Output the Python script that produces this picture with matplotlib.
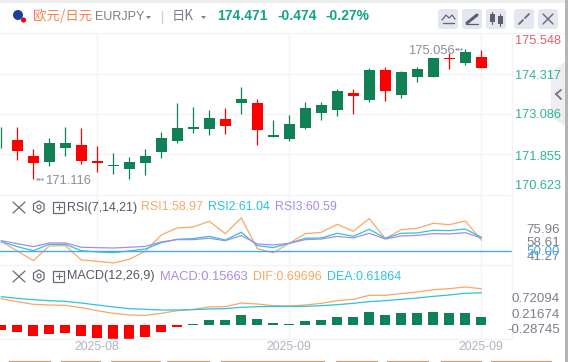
import matplotlib
matplotlib.use('Agg')
import matplotlib.pyplot as plt
from matplotlib.patches import FancyBboxPatch, Circle, Polygon, Rectangle

plt.rcParams['font.family'] = ['Liberation Sans', 'Noto Sans CJK SC', 'DejaVu Sans']

# candles (up = green, down = red)
opens = [172.368, 172.286, 171.793, 171.609, 172.039, 172.132, 171.639, 171.496, 171.393, 171.578,
         171.916, 172.255, 172.624, 172.624, 172.932, 173.424, 173.424, 172.378, 172.316, 172.655,
         173.116, 173.209, 173.732, 173.517, 174.440, 173.670, 174.224, 174.224, 174.809, 174.655, 174.840]
closes = [172.368, 171.947, 171.578, 172.193, 172.193, 171.639, 171.578, 171.516, 171.609, 171.793,
          172.347, 172.655, 172.686, 172.963, 172.716, 173.547, 172.593, 172.440, 172.778, 173.270,
          173.363, 173.794, 173.640, 174.440, 173.794, 174.378, 174.471, 174.809, 174.778, 174.994, 174.501]
highs = [172.696, 172.696, 172.009, 172.347, 172.696, 172.655, 172.101, 171.886, 171.762, 172.009,
         172.532, 173.424, 173.301, 173.209, 173.270, 173.917, 173.547, 172.901, 173.055, 173.455,
         173.455, 173.855, 173.855, 174.501, 174.532, 174.409, 174.532, 174.809, 174.963, 175.086, 175.055]
lows = [172.039, 171.670, 171.085, 171.485, 171.793, 171.547, 171.301, 171.239, 171.085, 171.209,
        171.732, 172.193, 172.501, 172.440, 172.470, 173.086, 172.132, 172.378, 172.255, 172.624,
        172.901, 173.024, 173.086, 173.455, 173.486, 173.578, 174.070, 174.224, 174.471, 174.594, 174.501]

rsi1 = [57.6, 50.3, 42.6, 54.2, 54.5, 43.2, 42.1, 40.8, 43.7, 50.0, 62.9, 68.4, 69.2, 73.7, 63.9, 76.3,
        52.1, 48.9, 56.3, 63.9, 65.0, 71.3, 65.8, 75.8, 60.0, 67.1, 68.1, 72.1, 71.0, 73.9, 58.97]
rsi2 = [57.6, 53.7, 50.5, 55.5, 55.5, 50.5, 49.5, 48.9, 50.3, 51.8, 56.8, 59.5, 60.0, 61.8, 58.9, 65.0,
        54.5, 52.9, 56.3, 60.3, 60.5, 64.2, 61.8, 67.4, 60.3, 64.2, 64.5, 66.6, 66.3, 67.6, 61.04]
rsi3 = [58.4, 56.0, 53.7, 56.6, 56.6, 53.2, 52.9, 52.6, 53.2, 53.9, 57.4, 59.2, 59.2, 60.3, 58.4, 62.4,
        55.8, 55.0, 56.3, 59.2, 59.7, 61.8, 60.5, 64.2, 59.7, 62.1, 62.6, 63.9, 63.7, 64.7, 60.59]

dif = [.506, .448, .397, .384, .378, .333, .275, .224, .192, .186, .224, .275, .301, .346, .352, .422,
       .403, .371, .365, .384, .416, .467, .493, .570, .570, .602, .634, .678, .698, .730, .69696]
dea = [.544, .512, .486, .467, .454, .422, .384, .346, .314, .301, .288, .288, .294, .307, .314, .339,
       .352, .358, .358, .358, .371, .390, .416, .448, .467, .493, .518, .550, .576, .608, .61864]
hist = [-.096, -.134, -.211, -.173, -.154, -.211, -.250, -.269, -.269, -.230, -.134, -.038, .019, .096,
        .096, .192, .115, .038, .019, .077, .096, .154, .154, .250, .192, .230, .230, .250, .230, .230, .15663]

price_ticks = ['175.548', '174.317', '173.086', '171.855', '170.623']
price_grid = [174.317, 173.086, 171.855]
rsi_ticks = ['75.96', '58.61', '41.27']
macd_ticks = ['0.72094', '0.21674', '-0.28745']
date_labels = ['2025-08', '2025-09', '2025-09']
date_idx = [6, 18, 30]

W, H = 568, 362
GREEN = '#108055'
RED = '#ff0000'
TEAL = '#2fb396'
ORANGE = '#f7a964'
CYAN = '#2cc3de'
PURPLE = '#a88de2'
GRID = '#f3f4f7'
GREY = '#7c7f8c'

fig = plt.figure(figsize=(W / 100, H / 100), dpi=100)


def panel(top, bottom):
    # axes placed by pixel rows
    ax = fig.add_axes([0, 1 - bottom / H, 512 / W, (bottom - top) / H])
    ax.set_xlim(-0.081, 31.92)
    ax.set_xticks([])
    ax.set_yticks([])
    for s in ax.spines.values():
        s.set_visible(False)
    ax.patch.set_alpha(0)
    for i in date_idx:
        ax.axvline(i, color=GRID, lw=1, zorder=0)
    return ax


xs = list(range(len(opens)))

ax1 = panel(33, 195)
ax1.set_ylim(170.593, 175.579)
for p in price_grid:
    ax1.axhline(p, color=GRID, lw=1, zorder=0)
for i in xs:
    c = GREEN if closes[i] >= opens[i] else RED
    ax1.vlines(i, lows[i], highs[i], color=c, lw=0.9, zorder=2)
    b = min(opens[i], closes[i])
    h = max(abs(closes[i] - opens[i]), 0.02)
    ax1.bar(i, h, bottom=b, width=0.69, color=c, lw=0, zorder=3)

ax2 = panel(195, 265)
ax2.set_ylim(39.2, 94.4)
ax2.plot(xs, rsi1, color=ORANGE, lw=0.9)
ax2.plot(xs, rsi2, color=CYAN, lw=0.9)
ax2.plot(xs, rsi3, color=PURPLE, lw=0.9)
ax2.axhline(50, color='#4aa8f0', lw=1.0)

ax3 = panel(265, 339)
ax3.set_ylim(-0.269, 1.152)
ax3.plot(xs, dif, color=ORANGE, lw=0.9)
ax3.plot(xs, dea, color=CYAN, lw=0.9)
ax3.bar(xs, hist, width=0.625, color=[GREEN if v >= 0 else RED for v in hist], lw=0)

# pixel overlay for header, buttons and labels
ov = fig.add_axes([0, 0, 1, 1], zorder=5)
ov.set_xlim(0, W)
ov.set_ylim(H, 0)
ov.axis('off')
ov.patch.set_alpha(0)


def txt(x, y, s, color=GREY, size=9.6, ha='left', **kw):
    ov.text(x, y, s, color=color, fontsize=size, ha=ha, va='center', **kw)


def seg(xa, ya, xb, yb, color=GREY, lw=1.0):
    ov.plot([xa, xb], [ya, yb], color=color, lw=lw, solid_capstyle='round')


# frame lines
ov.add_patch(Rectangle((0, 0), W, 3, color='#eeeeee', lw=0))
ov.add_patch(Rectangle((565, 0), 3, H, color='#b5b5b5', lw=0))
for y in [33, 195, 265, 339]:
    seg(0, y, 512 if y != 33 else 564, y, color=GRID)
seg(512, 33, 512, 339, color=GRID)
ov.add_patch(Polygon([[565, 62], [551, 71], [551, 117], [565, 126]], color='#eeeef2', lw=0, zorder=0))
seg(561, 90, 556, 94, color='#777a88', lw=1.4)
seg(556, 94, 561, 99, color='#777a88', lw=1.4)

# header
ov.add_patch(Circle((18, 15), 5, color='#1c3f9e', lw=0))
ov.add_patch(Circle((23.5, 20), 2.6, color='#f00020', lw=0))
txt(33, 16, '欧元/日元', color='#ff7f50', size=9.7, family=['Noto Sans CJK SC', 'DejaVu Sans'])
txt(95, 17.5, 'EURJPY', size=9.0)
ov.add_patch(Polygon([[146, 16], [151, 16], [148.5, 19]], color=GREY, lw=0))
seg(162, 11, 162, 23, color='#cfd2da')
txt(172, 16, '日K', size=9.6, family=['Noto Sans CJK SC', 'DejaVu Sans'])
ov.add_patch(Polygon([[201, 16], [206, 16], [203.5, 19]], color=GREY, lw=0))
txt(217, 16, '174.471', color='#10a588', size=10.0, weight='bold')
txt(277, 16, '-0.474', color='#10a588', size=10.0, weight='bold')
txt(326, 16, '-0.27%', color='#10a588', size=10.0, weight='bold')

# buttons
for x0 in [438, 462, 486, 514, 538]:
    ov.add_patch(FancyBboxPatch((x0 + 2, 11), 16, 16, boxstyle='round,pad=2,rounding_size=3',
                                fc='#e4e7ef', ec='none'))
ov.plot([442, 446, 449, 452, 455], [20, 15, 18, 15, 19], color='#666a78', lw=0.9)
seg(443, 23, 454, 23, color='#666a78')
seg(467, 23, 477, 15, color='#5c606e', lw=2.2)
seg(466, 24, 478, 24, color='#5c606e', lw=0.9)
for x0, t, b in [(492, 14, 22), (500, 16, 24)]:
    seg(x0, t - 2, x0, b + 2, color='#5c606e', lw=0.8)
    ov.add_patch(Rectangle((x0 - 2.5, t), 5, b - t, color='#5c606e', lw=0))
seg(519, 24, 523, 20, color='#666a78', lw=1.3)
seg(529, 14, 525, 18, color='#666a78', lw=1.3)
seg(543, 14, 553, 24, color='#666a78')
seg(543, 24, 553, 14, color='#666a78')


def panel_icons(y):
    seg(13, y - 5, 25, y + 6, color='#666a78', lw=0.9)
    seg(13, y + 6, 25, y - 5, color='#666a78', lw=0.9)
    ov.add_patch(Polygon([[39, y - 6], [44, y - 3], [44, y + 3], [39, y + 6], [33.5, y + 3], [33.5, y - 3]],
                         fc='none', ec='#666a78', lw=0.9))
    ov.add_patch(Circle((39, y), 2, fc='none', ec='#666a78', lw=0.8))
    ov.add_patch(Rectangle((53, y - 5.5), 11, 11, fc='none', ec='#666a78', lw=0.9))
    seg(55.5, y, 61.5, y, color='#666a78', lw=0.8)
    seg(58.5, y - 3, 58.5, y + 3, color='#666a78', lw=0.8)


panel_icons(207)
txt(67, 207.5, 'RSI(7,14,21)', color='#555866', size=8.9)
txt(141, 207.5, 'RSI1:58.97', color=ORANGE, size=8.9)
txt(208, 207.5, 'RSI2:61.04', color=CYAN, size=8.9)
txt(275, 207.5, 'RSI3:60.59', color=PURPLE, size=8.9)

panel_icons(276)
txt(67, 276.5, 'MACD(12,26,9)', color='#555866', size=9.1)
txt(160, 276.5, 'MACD:0.15663', color=PURPLE, size=9.3)
txt(253, 276.5, 'DIF:0.69696', color=ORANGE, size=9.0)
txt(327, 276.5, 'DEA:0.61864', color=CYAN, size=9.0)

# right hand labels
for s, y, c in zip(price_ticks, [41, 76, 115, 156.5, 186], ['#e2606e', TEAL, TEAL, TEAL, TEAL]):
    txt(561, y, s, color=c, size=9.2, ha='right')
for s, y in zip(rsi_ticks, [230, 242.5, 257.5]):
    txt(560, y, s, size=9.6, ha='right')
txt(560, 252, '50.00', color='#4aa8f0', size=9.6, ha='right')
for s, y in zip(macd_ticks, [298.5, 315, 330]):
    txt(560, y, s, size=9.6, ha='right')

# extreme price labels
txt(45, 181, '171.116', color='#8b8e9a', size=9.4)
txt(408, 51, '175.056', color='#8b8e9a', size=9.4)
for xd in [36.5, 39, 41.5]:
    ov.plot([xd], [178.5], '.', color='#8b8e9a', ms=1.2)
for xd in [455.5, 458, 460.5]:
    ov.plot([xd], [48.5], '.', color='#8b8e9a', ms=1.2)

for s, i in zip(date_labels, date_idx):
    txt(1.3 + 16 * i, 347.5, s, color='#b0b2c0', size=8.8, ha='center')

# strip along the bottom edge
for a, b in [(9, 50), (61, 100), (111, 160), (167, 209), (221, 324), (336, 377), (387, 428), (441, 481), (491, 551)]:
    seg(a, 361.3, b, 361.3, color='#c9a26b', lw=0.9)

fig.savefig('out.png', dpi=100)
